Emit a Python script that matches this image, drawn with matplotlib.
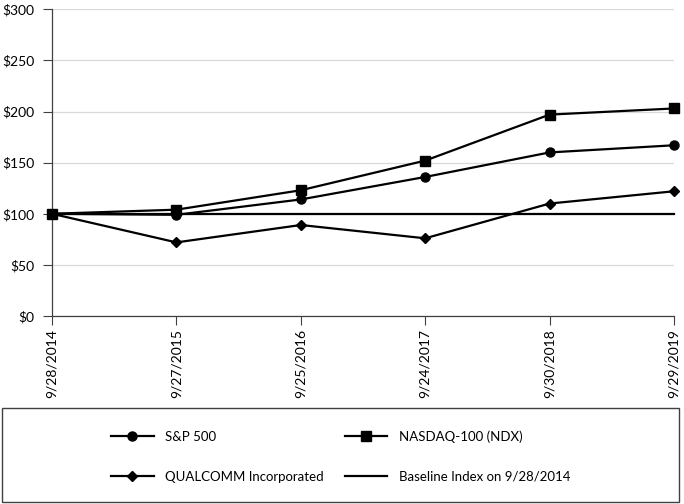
"""Five-year cumulative total return comparison: QUALCOMM vs S&P 500 vs NASDAQ-100."""

import matplotlib
matplotlib.use('Agg')
import matplotlib.pyplot as plt
from matplotlib.patches import Rectangle

plt.rcParams['font.family'] = ['Lato', 'DejaVu Sans']

# Data
dates = ['9/28/2014', '9/27/2015', '9/25/2016', '9/24/2017', '9/30/2018', '9/29/2019']
sp500 = [100, 99, 114, 136, 160, 167]
nasdaq100 = [100, 104, 123, 152, 197, 203]
qualcomm = [100, 72, 89, 76, 110, 122]
baseline = [100, 100, 100, 100, 100, 100]
y_ticks = [0, 50, 100, 150, 200, 250, 300]

fig = plt.figure(figsize=(6.84, 5.04), dpi=100)
ax = fig.add_axes([52 / 684, 1 - 316 / 504, (674 - 52) / 684, (316 - 9.3) / 504])

x = list(range(len(dates)))
line_kw = dict(color='black', linewidth=1.6, clip_on=False, zorder=3)
h_sp, = ax.plot(x, sp500, marker='o', markersize=6.5, label='S&P 500', **line_kw)
h_nd, = ax.plot(x, nasdaq100, marker='s', markersize=7, label='NASDAQ-100 (NDX)', **line_kw)
h_qc, = ax.plot(x, qualcomm, marker='D', markersize=5, label='QUALCOMM Incorporated', **line_kw)
h_bl, = ax.plot(x, baseline, label='Baseline Index on 9/28/2014', **line_kw)

ax.set_xlim(0, len(dates) - 1)
ax.set_ylim(0, 300)
ax.set_yticks(y_ticks)
ax.set_yticklabels([f'${v}' for v in y_ticks])
ax.set_xticks(x)
ax.set_xticklabels(dates, rotation=90)
ax.tick_params(axis='both', length=6.5, width=0.8, color='#404040', direction='out')
ax.tick_params(axis='y', labelsize=10, pad=6)
ax.tick_params(axis='x', labelsize=10, pad=3)

ax.grid(axis='y', color='#d9d9d9', linewidth=0.9)
ax.set_axisbelow(True)
for side in ('top', 'right'):
    ax.spines[side].set_visible(False)
for side in ('left', 'bottom'):
    ax.spines[side].set_color('#404040')
    ax.spines[side].set_linewidth(0.9)

# Legend box below the chart
fig.patches.append(Rectangle((1.5 / 684, 1 - 502 / 504), 677 / 684, 94 / 504,
                             transform=fig.transFigure, fill=False,
                             edgecolor='#404040', linewidth=1.0))
fig.legend(handles=[h_sp, h_qc, h_nd, h_bl], ncol=2, frameon=False,
           loc='center', bbox_to_anchor=(341 / 684, 1 - 456.5 / 504),
           fontsize=9.5, handlelength=3.2, handletextpad=0.9,
           columnspacing=1.6, labelspacing=2.1)

fig.savefig('out.png', dpi=100)
